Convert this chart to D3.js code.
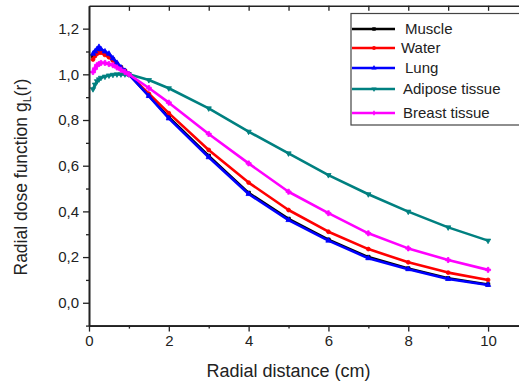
<!DOCTYPE html>
<html><head><meta charset="utf-8">
<script src="https://cdn.jsdelivr.net/npm/d3@7"></script>
<style>body{margin:0;background:#fff}svg{display:block;font-family:"Liberation Sans",Arial,sans-serif}</style>
</head><body>
<script>
const radius = [0.1,0.15,0.2,0.25,0.3,0.4,0.5,0.6,0.7,0.8,0.9,1,1.5,2,3,4,5,6,7,8,9,10];
const muscle = [1.08,1.095,1.10,1.105,1.10,1.09,1.08,1.065,1.045,1.03,1.015,1.0,0.907,0.812,0.643,0.481,0.367,0.276,0.200,0.150,0.107,0.080];
const water  = [1.065,1.08,1.09,1.095,1.095,1.085,1.075,1.06,1.045,1.03,1.015,1.0,0.915,0.83,0.669,0.526,0.406,0.311,0.235,0.177,0.132,0.100];
const lung   = [1.09,1.10,1.11,1.12,1.11,1.10,1.09,1.07,1.05,1.03,1.015,1.0,0.905,0.807,0.637,0.476,0.362,0.272,0.195,0.147,0.104,0.078];
const adipose= [0.935,0.955,0.97,0.978,0.985,0.99,0.995,0.998,1.0,1.0,1.0,1.0,0.975,0.939,0.851,0.749,0.654,0.559,0.475,0.399,0.330,0.272];
const breast = [1.01,1.025,1.04,1.045,1.05,1.05,1.045,1.04,1.03,1.02,1.01,1.0,0.94,0.876,0.739,0.610,0.486,0.392,0.304,0.238,0.187,0.144];
const seriesNames = ["Muscle","Water","Lung","Adipose tissue","Breast tissue"];
const seriesColors = ["#000000","#ff0000","#0000ff","#008080","#ff00ff"];
const seriesSymbols = [d3.symbolSquare,d3.symbolCircle,d3.symbolTriangle,d3.symbolTriangle,d3.symbolCross];
const seriesValues = [muscle,water,lung,adipose,breast];
const xMajor = [0,2,4,6,8,10];
const yMajor = [0,0.2,0.4,0.6,0.8,1.0,1.2];

const W=519,H=385;
const svg=d3.select("body").append("svg").attr("width",W).attr("height",H);
const x=d3.scaleLinear().domain([0,10.8]).range([89,520]);
const y=d3.scaleLinear().domain([-0.1,1.3]).range([325.6,5.8]);
const ink="#222";
const fmt=v=>d3.format(".1f")(v).replace(".",",");

// plot lines
const line=d3.line().x((d,i)=>x(radius[i])).y(d=>y(d));
seriesValues.forEach((vals,k)=>{
  svg.append("path").datum(vals).attr("d",line).attr("fill","none")
    .attr("stroke",seriesColors[k]).attr("stroke-width",2.6).attr("stroke-linejoin","round");
  svg.append("g").selectAll("path").data(vals).join("path")
    .attr("d",d3.symbol().type(seriesSymbols[k]).size(k===4?14:12))
    .attr("transform",(d,i)=>`translate(${x(radius[i])},${y(d)})${k===3?" rotate(180)":""}`)
    .attr("fill",seriesColors[k]).attr("stroke",seriesColors[k]).attr("stroke-width",0.8);
});

// axes
const gx=svg.append("g").attr("transform",`translate(0,${y(-0.1)})`)
  .call(d3.axisBottom(x).tickValues(xMajor).tickFormat(d3.format("d")).tickSize(6).tickSizeOuter(0).tickPadding(4));
const gxm=svg.append("g").attr("transform",`translate(0,${y(-0.1)})`)
  .call(d3.axisBottom(x).tickValues([1,3,5,7,9]).tickFormat("").tickSize(3).tickSizeOuter(0));
const gt=svg.append("g").attr("transform",`translate(0,${y(1.3)})`)
  .call(d3.axisBottom(x).tickValues(d3.range(1,11)).tickFormat("").tickSize(5).tickSizeOuter(0));
const gy=svg.append("g").attr("transform",`translate(${x(0)},0)`)
  .call(d3.axisLeft(y).tickValues(yMajor).tickFormat(fmt).tickSize(6).tickSizeOuter(0).tickPadding(4));
const gym=svg.append("g").attr("transform",`translate(${x(0)},0)`)
  .call(d3.axisLeft(y).tickValues([-0.1,0.1,0.3,0.5,0.7,0.9,1.1]).tickFormat("").tickSize(3).tickSizeOuter(0));
[gx,gxm,gt,gy,gym].forEach(g=>{
  g.select(".domain").attr("stroke",ink).attr("stroke-width",1.6);
  g.selectAll(".tick line").attr("stroke",ink).attr("stroke-width",1.3);
  g.selectAll("text").attr("font-size",15).attr("fill","#222").attr("font-family","Liberation Sans, Arial, sans-serif");
});

// titles
svg.append("text").attr("x",x(5)).attr("y",377).attr("text-anchor","middle")
  .attr("font-size",18).attr("fill","#222").text("Radial distance (cm)");
const yt=svg.append("text").attr("transform",`translate(27,${y(0.55)}) rotate(-90)`)
  .attr("text-anchor","middle").attr("font-size",17.5).attr("fill","#222");
yt.append("tspan").text("Radial dose function g");
yt.append("tspan").attr("font-size",11).attr("dy",4).text("L");
yt.append("tspan").attr("dy",-4).text("(r)");

// legend
const lg=svg.append("g");
lg.append("rect").attr("x",351).attr("y",13.5).attr("width",172).attr("height",111.5)
  .attr("fill","#fff").attr("stroke","#444").attr("stroke-width",1.2);
const ly=[29,48,68,89,113], lx=[405,401,405,403,403];
seriesNames.forEach((n,k)=>{
  lg.append("line").attr("x1",352).attr("x2",395).attr("y1",ly[k]).attr("y2",ly[k])
    .attr("stroke",seriesColors[k]).attr("stroke-width",2.6);
  lg.append("path").attr("d",d3.symbol().type(seriesSymbols[k]).size(12))
    .attr("transform",`translate(374,${ly[k]})${k===3?" rotate(180)":""}`).attr("fill",seriesColors[k]);
  lg.append("text").attr("x",lx[k]).attr("y",ly[k]+5).attr("font-size",15).attr("fill","#222").text(n);
});
</script>
</body></html>
